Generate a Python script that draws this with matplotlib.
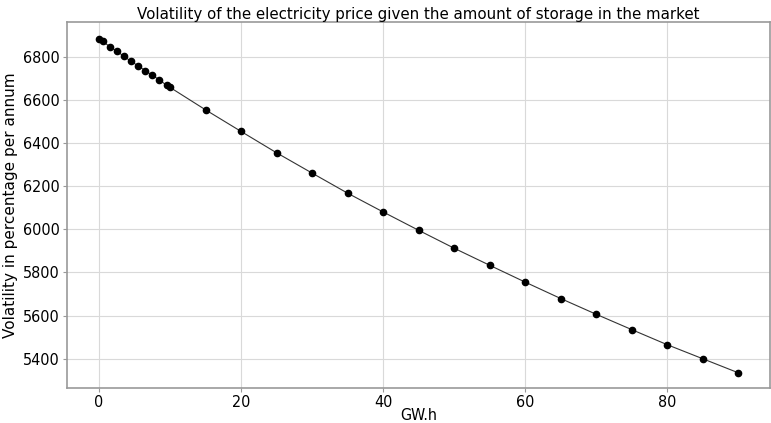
import numpy as np
import matplotlib.pyplot as plt

# storage (GW.h) and volatility (% per annum)
storage = [0, 0.5, 1.5, 2.5, 3.5, 4.5, 5.5, 6.5, 7.5, 8.5, 9.5, 10,
           15, 20, 25, 30, 35, 40, 45, 50, 55, 60, 65, 70, 75, 80, 85, 90]
volatility = [6882, 6871, 6846, 6825, 6801, 6778, 6757, 6735, 6713, 6692, 6667, 6657,
              6553, 6453, 6354, 6260, 6167, 6080, 5995, 5912, 5833, 5755, 5679, 5606,
              5535, 5465, 5400, 5335]

plt.rcParams['font.family'] = 'DejaVu Sans'

fig = plt.figure(figsize=(7.71, 4.23), dpi=100)
ax = fig.add_axes([0.087, 0.083, 0.912, 0.865])

ax.plot(storage, volatility, color='#333333', lw=0.8, marker='o', ms=4.5,
        mfc='black', mec='black', zorder=3)

ax.set_xlim(-4.5, 94.5)
ax.set_ylim(5265, 6960)
ax.set_xticks([0, 20, 40, 60, 80])
ax.set_yticks([5400, 5600, 5800, 6000, 6200, 6400, 6600, 6800])
ax.grid(True, color='#d9d9d9', lw=0.8)
ax.set_axisbelow(True)
for s in ax.spines.values():
    s.set_color('#999999')
    s.set_linewidth(1.2)
ax.tick_params(color='#999999', length=3, pad=2)
for lab in ax.get_xticklabels() + ax.get_yticklabels():
    lab.set_fontsize(11.5)
    lab.set_fontstretch('condensed')

ax.set_title('Volatility of the electricity price given the amount of storage in the market',
             fontsize=10.8, pad=2)
ax.set_xlabel('GW.h', fontsize=11.5, fontstretch='condensed', labelpad=-1.5)
ax.set_ylabel('Volatility in percentage per annum', fontsize=11, labelpad=4)

fig.savefig('out.png', dpi=100)
